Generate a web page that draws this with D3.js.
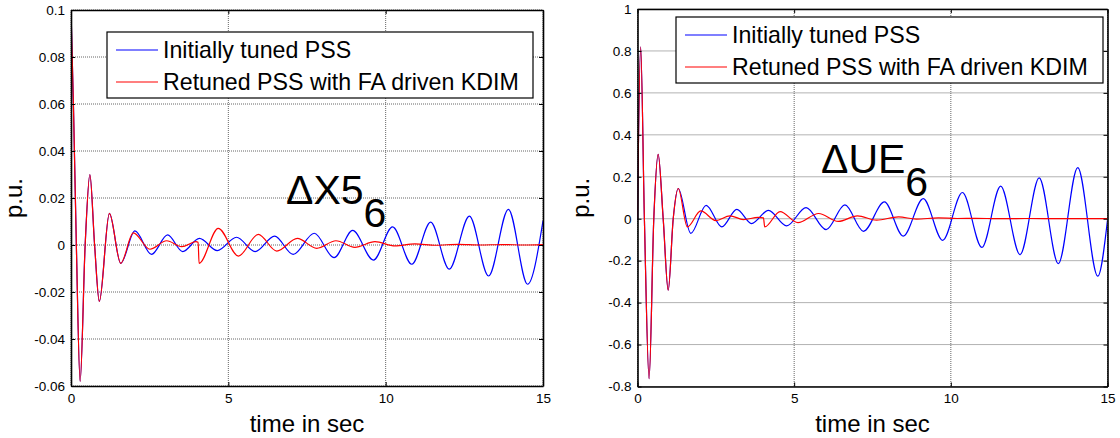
<!DOCTYPE html>
<html>
<head>
<meta charset="utf-8">
<script src="https://cdn.jsdelivr.net/npm/d3@7"></script>
<style>
  body { margin: 0; background: #fff; }
  svg { display: block; }
  text { font-family: "Liberation Sans", Arial, sans-serif; fill: #000; }
</style>
</head>
<body>
<svg id="chart" width="1120" height="438"></svg>
<script>
// ---- ΔX5_6 response (p.u.) : time in s, extremum samples of each trace ----
const x5TimeInitial = [0, 0.08, 0.17, 0.29, 0.45, 0.60, 0.75, 0.90, 1.22, 1.58, 2.03, 2.56, 3.07, 3.55, 4.08, 4.65,
  5.26, 5.85, 6.47, 7.06, 7.73, 8.36, 8.95, 9.61, 10.22, 10.83, 11.43, 12.02, 12.66, 13.27, 13.90, 14.51, 15.0];
const x5Initial = [0.1, 0.058, 0.0, -0.058, 0.0, 0.030, 0.0, -0.024, 0.0135, -0.0078, 0.0060, -0.0040, 0.0043, -0.0028, 0.0028, -0.0024,
  0.0033, -0.0028, 0.0038, -0.0040, 0.0050, -0.0054, 0.0062, -0.0064, 0.0077, -0.0082, 0.0097, -0.0103, 0.0123, -0.0132, 0.0152, -0.0167, 0.0103];

const x5TimeRetuned = [0, 0.08, 0.17, 0.29, 0.45, 0.60, 0.75, 0.90, 1.22, 1.58, 1.98, 2.51, 3.04, 3.52, 3.97, 4.04, 4.07,
  4.68, 5.32, 5.95, 6.54, 7.19, 7.81, 8.42, 9.02, 9.66, 10.30, 10.93, 11.60, 12.30, 13.00, 13.70, 14.40, 15.0];
const x5Retuned = [0.1, 0.058, 0.0, -0.058, 0.0, 0.030, 0.0, -0.024, 0.0135, -0.0078, 0.0052, -0.0018, 0.0018, -0.0007, 0.0014, 0.0012, -0.0078,
  0.0071, -0.0047, 0.0045, -0.0026, 0.0028, -0.0014, 0.0018, -0.0010, 0.0014, -0.0004, 0.0005, -0.0001, 0.0003, 0.0, 0.0002, 0.0, 0.0002];

// ---- ΔUE_6 response (p.u.) ----
const ueTimeInitial = [0, 0.10, 0.22, 0.37, 0.52, 0.66, 0.82, 0.98, 1.14, 1.30, 1.70, 2.19, 2.69, 3.17, 3.64, 4.18, 4.76,
  5.38, 6.02, 6.62, 7.21, 7.88, 8.48, 9.12, 9.74, 10.37, 10.99, 11.59, 12.21, 12.82, 13.43, 14.05, 14.69, 15.0];
const ueInitial = [0.0, 0.82, 0.0, -0.762, 0.0, 0.307, 0.0, -0.341, 0.0, 0.144, -0.070, 0.064, -0.039, 0.045, -0.023, 0.040, -0.034,
  0.053, -0.052, 0.066, -0.060, 0.080, -0.083, 0.096, -0.103, 0.125, -0.137, 0.155, -0.171, 0.195, -0.214, 0.244, -0.274, -0.007];

const ueTimeRetuned = [0, 0.10, 0.22, 0.37, 0.52, 0.66, 0.82, 0.98, 1.14, 1.30, 1.59, 2.02, 2.50, 2.95, 3.38, 3.85, 4.02, 4.06,
  4.55, 5.12, 5.78, 6.41, 7.02, 7.63, 8.33, 8.90, 9.60, 10.20, 10.80, 11.50, 12.50, 13.50, 15.0];
const ueRetuned = [0.0, 0.82, 0.0, -0.762, 0.0, 0.307, 0.0, -0.341, 0.0, 0.144, -0.039, 0.037, -0.009, 0.014, -0.004, 0.006, 0.004, -0.039,
  0.034, -0.019, 0.025, -0.013, 0.014, -0.007, 0.009, -0.002, 0.004, 0.001, 0.002, 0.0, 0.001, 0.0, 0.0];

// ---- axis ticks and labels ----
const timeTicks = [0, 5, 10, 15];
const x5Ticks = [0.1, 0.08, 0.06, 0.04, 0.02, 0, -0.02, -0.04, -0.06];
const x5TickLabels = ["0.1", "0.08", "0.06", "0.04", "0.02", "0", "-0.02", "-0.04", "-0.06"];
const ueTicks = [1, 0.8, 0.6, 0.4, 0.2, 0, -0.2, -0.4, -0.6, -0.8];
const ueTickLabels = ["1", "0.8", "0.6", "0.4", "0.2", "0", "-0.2", "-0.4", "-0.6", "-0.8"];
const seriesNames = ["Initially tuned PSS", "Retuned PSS with FA driven KDIM"];
const seriesColors = ["#0000ff", "#ff0000"];

const svg = d3.select("#chart");
const zip = (t, v) => t.map((d, i) => [d, v[i]]);

function drawPanel(cfg) {
  const x = d3.scaleLinear().domain([0, 15]).range([cfg.left, cfg.right]);
  const y = d3.scaleLinear().domain(cfg.yDomain).range([cfg.bottom, cfg.top]);
  const g = svg.append("g");

  // dotted grid
  g.append("g").selectAll("line").data(timeTicks).join("line")
    .attr("x1", d => x(d)).attr("x2", d => x(d))
    .attr("y1", cfg.top).attr("y2", cfg.bottom)
    .attr("stroke", "#666").attr("stroke-width", 1).attr("stroke-dasharray", "1,1");
  g.append("g").selectAll("line").data(cfg.yTicks).join("line")
    .attr("x1", cfg.left).attr("x2", cfg.right)
    .attr("y1", d => y(d)).attr("y2", d => y(d))
    .attr("stroke", "#666").attr("stroke-width", 1).attr("stroke-dasharray", "1,1");

  // traces
  const clipId = "clip-" + cfg.id;
  g.append("clipPath").attr("id", clipId).append("rect")
    .attr("x", cfg.left).attr("y", cfg.top)
    .attr("width", cfg.right - cfg.left).attr("height", cfg.bottom - cfg.top);
  const line = d3.line().x(d => x(d[0])).y(d => y(d[1])).curve(d3.curveMonotoneX);
  cfg.series.forEach((s, i) => {
    g.append("path").datum(s)
      .attr("clip-path", `url(#${clipId})`)
      .attr("fill", "none").attr("stroke", seriesColors[i])
      .attr("stroke-width", 1.2).attr("stroke-linejoin", "round")
      .attr("d", line);
  });

  // axes with inward ticks on all four sides
  const styleAxis = sel => {
    sel.attr("font-family", "Liberation Sans, Arial, sans-serif").attr("font-size", 13.5);
    sel.select(".domain").attr("stroke", "#000").attr("stroke-width", 1.6);
    sel.selectAll(".tick line").attr("stroke", "#000").attr("stroke-width", 1);
    sel.selectAll(".tick text").attr("fill", "#000");
  };
  g.append("g").attr("transform", `translate(0,${cfg.bottom})`)
    .call(d3.axisBottom(x).tickValues(timeTicks).tickSizeInner(-4).tickSizeOuter(0).tickPadding(7))
    .call(styleAxis);
  g.append("g").attr("transform", `translate(0,${cfg.top})`)
    .call(d3.axisTop(x).tickValues(timeTicks).tickSizeInner(-4).tickSizeOuter(0).tickFormat(""))
    .call(styleAxis);
  g.append("g").attr("transform", `translate(${cfg.left},0)`)
    .call(d3.axisLeft(y).tickValues(cfg.yTicks).tickFormat((d, i) => cfg.yLabels[i])
      .tickSizeInner(-4).tickSizeOuter(0).tickPadding(6))
    .call(styleAxis);
  g.append("g").attr("transform", `translate(${cfg.right},0)`)
    .call(d3.axisRight(y).tickValues(cfg.yTicks).tickSizeInner(-4).tickSizeOuter(0).tickFormat(""))
    .call(styleAxis);

  // axis titles
  g.append("text")
    .attr("transform", `translate(${cfg.left - 49},${(cfg.top + cfg.bottom) / 2}) rotate(-90)`)
    .attr("text-anchor", "middle").attr("font-size", 24).text("p.u.");
  g.append("text")
    .attr("x", (cfg.left + cfg.right) / 2).attr("y", 432)
    .attr("text-anchor", "middle").attr("font-size", 24).text("time in sec");

  // legend
  const lg = g.append("g");
  lg.append("rect")
    .attr("x", cfg.legend.x).attr("y", cfg.legend.y)
    .attr("width", cfg.legend.w).attr("height", cfg.legend.h)
    .attr("fill", "#fff").attr("stroke", "#000").attr("stroke-width", 1.2);
  seriesNames.forEach((name, i) => {
    const ly = cfg.legend.y + 18 + i * 32;
    lg.append("line")
      .attr("x1", cfg.legend.x + 9).attr("x2", cfg.legend.x + 51)
      .attr("y1", ly).attr("y2", ly)
      .attr("stroke", seriesColors[i]).attr("stroke-width", 1.2);
    lg.append("text")
      .attr("x", cfg.legend.x + 56).attr("y", ly + 7.5)
      .attr("font-size", 23.2).text(name);
  });

  // signal annotation with subscript
  const ann = g.append("text").attr("x", cfg.note.x).attr("y", cfg.note.y).attr("font-size", 41);
  ann.append("tspan").text(cfg.note.main);
  ann.append("tspan").attr("dy", 23).text(cfg.note.sub);
}

drawPanel({
  id: "x5", left: 71, right: 543, top: 10, bottom: 386,
  yDomain: [-0.06, 0.1], yTicks: x5Ticks, yLabels: x5TickLabels,
  series: [zip(x5TimeInitial, x5Initial), zip(x5TimeRetuned, x5Retuned)],
  legend: { x: 107, y: 32, w: 426, h: 66 },
  note: { x: 286, y: 204, main: "ΔX5", sub: "6" }
});

drawPanel({
  id: "ue", left: 637.5, right: 1107.5, top: 9, bottom: 386.5,
  yDomain: [-0.8, 1], yTicks: ueTicks, yLabels: ueTickLabels,
  series: [zip(ueTimeInitial, ueInitial), zip(ueTimeRetuned, ueRetuned)],
  legend: { x: 676, y: 17, w: 427, h: 66 },
  note: { x: 821, y: 173, main: "ΔUE", sub: "6" }
});
</script>
</body>
</html>
